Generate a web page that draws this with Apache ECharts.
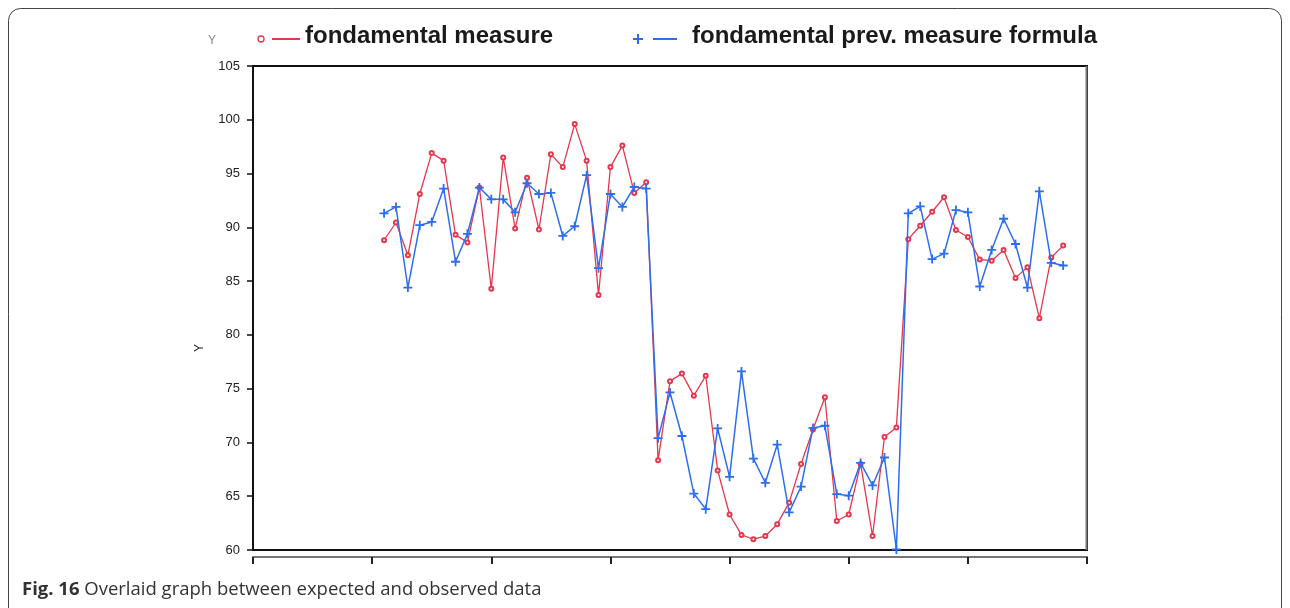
<!DOCTYPE html>
<html>
<head>
<meta charset="utf-8">
<script src="https://cdn.jsdelivr.net/npm/echarts@6/dist/echarts.min.js"></script>
<style>
html,body{margin:0;padding:0;background:#fff;}
#chart{width:1290px;height:608px;}
</style>
</head>
<body>
<div id="chart"></div>
<script>
// ---- data ----
var xIndex = [11,12,13,14,15,16,17,18,19,20,21,22,23,24,25,26,27,28,29,30,31,32,33,34,35,36,37,38,39,40,41,42,43,44,45,46,47,48,49,50,51,52,53,54,55,56,57,58,59,60,61,62,63,64,65,66,67,68];
var measured = [88.8,90.45,87.4,93.1,96.9,96.2,89.3,88.6,93.7,84.3,
  96.5,89.9,94.6,89.8,96.8,95.6,99.6,96.2,83.7,95.6,
  97.6,93.2,94.2,68.35,75.7,76.4,74.35,76.2,67.4,63.3,
  61.4,61.0,61.3,62.4,64.4,68.0,71.2,74.2,62.7,63.3,
  68.0,61.3,70.5,71.4,88.9,90.15,91.45,92.8,89.75,89.1,
  87.0,86.9,87.9,85.3,86.3,81.55,87.2,88.3];
var predicted = [91.3,91.9,84.4,90.2,90.5,93.6,86.8,89.4,93.7,92.6,
  92.6,91.4,94.1,93.1,93.2,89.2,90.1,94.85,86.2,93.1,
  91.9,93.75,93.6,70.4,74.65,70.6,65.25,63.8,71.3,66.8,
  76.6,68.5,66.25,69.8,63.5,65.9,71.35,71.55,65.2,65.05,
  68.1,66.0,68.6,60.05,91.3,91.95,87.05,87.55,91.6,91.4,
  84.5,87.9,90.8,88.45,84.4,93.35,86.7,86.45];
var seriesNames = ['fondamental measure', 'fondamental prev. measure formula'];
var yAxisName = 'Y';
var captionBold = 'Fig. 16';
var captionText = ' Overlaid graph between expected and observed data';

function pairs(vals){ return vals.map(function(v,i){ return [xIndex[i], v]; }); }

var RED = '#e8374d', BLUE = '#2c6ef2';
var plusPath = 'path://M4,0H6V4H10V6H6V10H4V6H0V4H4Z';

var chart = echarts.init(document.getElementById('chart'));
chart.setOption({
  animation: false,
  backgroundColor: '#fff',
  grid: { left: 253, right: 203, top: 66, bottom: 58, show: true, borderColor: '#111', borderWidth: 2, backgroundColor: 'transparent' },
  xAxis: {
    type: 'value', min: 0, max: 70, interval: 10, offset: 7,
    axisLine: { show: true, lineStyle: { color: '#777', width: 2 } },
    axisTick: { show: true, length: 7, lineStyle: { color: '#222', width: 2 } },
    axisLabel: { show: false },
    splitLine: { show: false }
  },
  yAxis: {
    type: 'value', min: 60, max: 105, interval: 5, offset: 10,
    axisLine: { show: true, lineStyle: { color: '#111', width: 2 } },
    axisTick: { show: true, length: 6, lineStyle: { color: '#111', width: 1.5 } },
    axisLabel: { fontSize: 13, color: '#222', margin: 3, fontFamily: 'Liberation Sans' },
    splitLine: { show: false }
  },
  series: [
    {
      name: seriesNames[0], type: 'line', data: pairs(measured),
      showAllSymbol: true, symbol: 'emptyCircle', symbolSize: 4, z: 2,
      lineStyle: { color: RED, width: 1.3 },
      itemStyle: { color: RED, borderColor: RED, borderWidth: 1 }
    },
    {
      name: seriesNames[1], type: 'line', data: pairs(predicted),
      showAllSymbol: true, symbol: plusPath, symbolSize: 9, z: 3,
      lineStyle: { color: BLUE, width: 1.5 },
      itemStyle: { color: BLUE }
    }
  ],
  graphic: [
    { type: 'rect', shape: { x: 8.5, y: 8.5, width: 1273, height: 660, r: 12 }, style: { fill: 'none', stroke: '#444', lineWidth: 1 }, silent: true },
    { type: 'line', shape: { x1: 1086.5, y1: 66, x2: 1086.5, y2: 550 }, style: { stroke: '#777', lineWidth: 2 }, z: 10 },
    { type: 'text', x: 200, y: 348, rotation: Math.PI / 2, style: { text: yAxisName, fill: '#222', font: '12px "Liberation Sans"', align: 'center', verticalAlign: 'middle' } },
    { type: 'text', x: 208, y: 41, style: { text: yAxisName, fill: '#888', font: '12px "Liberation Sans"', verticalAlign: 'middle' } },
    { type: 'circle', shape: { cx: 261, cy: 39, r: 3 }, style: { fill: '#fff', stroke: RED, lineWidth: 1.3 } },
    { type: 'line', shape: { x1: 272, y1: 39, x2: 300, y2: 39 }, style: { stroke: RED, lineWidth: 2 } },
    { type: 'text', x: 305, y: 36, style: { text: seriesNames[0], fill: '#1a1a1a', font: 'bold 24px "Liberation Sans"', verticalAlign: 'middle' } },
    { type: 'rect', shape: { x: 633, y: 38, width: 10, height: 2 }, style: { fill: BLUE } },
    { type: 'rect', shape: { x: 637, y: 34, width: 2, height: 10 }, style: { fill: BLUE } },
    { type: 'line', shape: { x1: 653, y1: 39, x2: 677, y2: 39 }, style: { stroke: BLUE, lineWidth: 2 } },
    { type: 'text', x: 692, y: 36, style: { text: seriesNames[1], fill: '#1a1a1a', font: 'bold 24px "Liberation Sans"', verticalAlign: 'middle' } },
    { type: 'text', x: 22, y: 590, style: {
        text: '{b|' + captionBold + '}{r|' + captionText + '}',
        verticalAlign: 'middle',
        rich: {
          b: { fontFamily: 'Open Sans', fontWeight: 'bold', fontSize: 18.5, fill: '#333' },
          r: { fontFamily: 'Open Sans', fontSize: 18.5, fill: '#333' }
        }
    } }
  ]
});
</script>
</body>
</html>
